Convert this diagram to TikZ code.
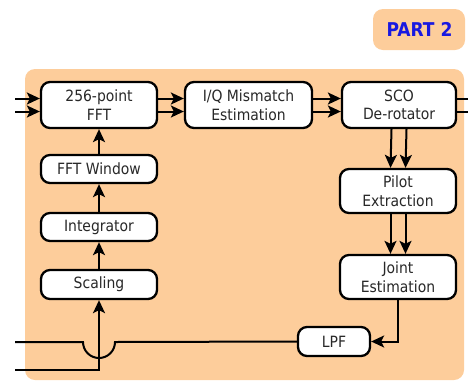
\documentclass[tikz,border=0pt]{standalone}
\usepackage{fontspec}
\setmainfont{DejaVu Sans Condensed}
\usetikzlibrary{arrows.meta}
\definecolor{panelorange}{RGB}{253,205,155}
\definecolor{titleblue}{RGB}{25,25,225}
\definecolor{labelgray}{RGB}{40,40,40}
\tikzset{
  block/.style={draw=black, line width=2.3pt, fill=white, rounded corners=9pt,
    align=center, inner sep=0pt, text=labelgray, font=\fontsize{15.5}{18.5}\selectfont},
  flow/.style={line width=2pt, -{Stealth[length=13pt,width=12pt,inset=3pt]}},
  wire/.style={line width=2pt}
}
\begin{document}
\begin{tikzpicture}[x=1pt,y=-1pt]
\useasboundingbox (0,0) rectangle (468,381);
% background panels
\fill[panelorange, rounded corners=10pt] (373,9) rectangle (465,50);
\node[text=titleblue, font=\fontsize{19}{22}\selectfont\bfseries] (title) at (419.5,29.5) {PART 2};
\fill[panelorange, rounded corners=10pt] (25,69) rectangle (464,380);

% blocks
\node[block, minimum width=116pt, minimum height=46pt] (fft) at (99,105) {256-point\\FFT};
\node[block, minimum width=127pt, minimum height=46pt] (iq) at (248.5,105) {I/Q Mismatch\\Estimation};
\node[block, minimum width=114pt, minimum height=46pt] (sco) at (399,105) {SCO\\De-rotator};
\node[block, minimum width=116pt, minimum height=28pt] (win) at (99,169) {FFT Window};
\node[block, minimum width=116pt, minimum height=28pt] (integ) at (99,227) {Integrator};
\node[block, minimum width=116pt, minimum height=29pt] (scal) at (99,284.5) {Scaling};
\node[block, minimum width=116pt, minimum height=44pt] (pilot) at (398,191) {Pilot\\Extraction};
\node[block, minimum width=116pt, minimum height=44pt] (joint) at (398,277) {Joint\\Estimation};
\node[block, minimum width=72pt, minimum height=29pt] (lpf) at (334,341.5) {LPF};

% free ends
\coordinate (inA) at (15,98.5);
\coordinate (inB) at (15,111.5);
\coordinate (outA) at (468,98.5);
\coordinate (outB) at (468,111.5);
\coordinate (fbEnd) at (15,342);
\coordinate (ctlStart) at (15,370);
\coordinate (ctlCorner) at (99,370);
\coordinate (jCorner) at (398,341.5);

% I/Q data path
\draw[flow] (inA) -- (inA -| fft.west);
\draw[flow] (inB) -- (inB -| fft.west);
\draw[flow] (inA -| fft.east) -- (inA -| iq.west);
\draw[flow] (inB -| fft.east) -- (inB -| iq.west);
\draw[flow] (inA -| iq.east) -- (inA -| sco.west);
\draw[flow] (inB -| iq.east) -- (inB -| sco.west);
\draw[wire] (inA -| sco.east) -- (outA);
\draw[wire] (inB -| sco.east) -- (outB);

% timing chain
\draw[flow] (scal.north) -- (integ.south);
\draw[flow] (integ.north) -- (win.south);
\draw[flow] (win.north) -- (fft.south);
\draw[flow] (ctlStart) -- (ctlCorner) -- (scal.south);

% pilot processing
\draw[flow] ([xshift=-7.5pt]sco.south) -- ([xshift=-7.5pt]pilot.north);
\draw[flow] ([xshift=7.5pt]sco.south) -- ([xshift=7.5pt]pilot.north);
\draw[flow] ([xshift=-7.5pt]pilot.south) -- ([xshift=-7.5pt]joint.north);
\draw[flow] ([xshift=7.5pt]pilot.south) -- ([xshift=7.5pt]joint.north);

% feedback through the loop filter
\draw[flow] (joint.south) -- (jCorner) -- (lpf.east);
\draw[wire] (lpf.west) -- (115,342) arc[start angle=0, end angle=-180, radius=16pt] -- (fbEnd);
\end{tikzpicture}
\end{document}
